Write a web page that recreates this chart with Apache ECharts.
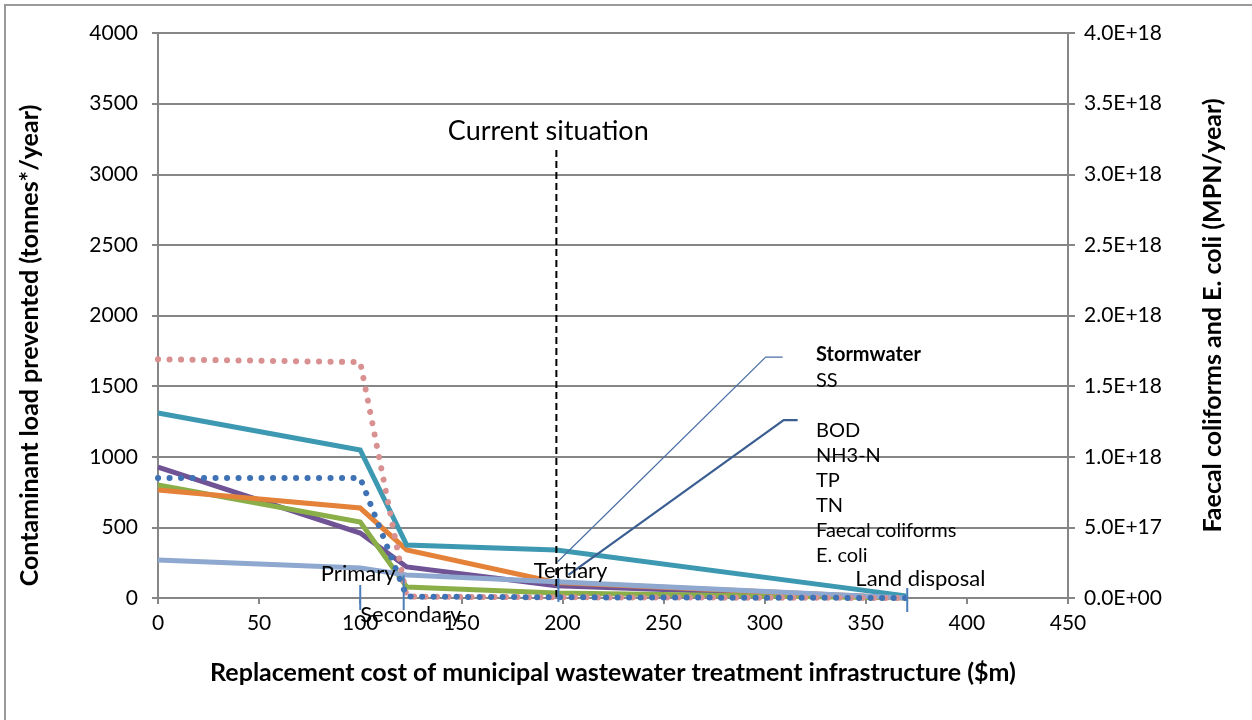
<!DOCTYPE html>
<html>
<head>
<meta charset="utf-8">
<script src="https://cdn.jsdelivr.net/npm/echarts@6/dist/echarts.min.js"></script>
<style>
html,body{margin:0;padding:0;background:#fff;}
#chart{width:1252px;height:720px;}
</style>
</head>
<body>
<div id="chart"></div>
<script>
// ---- data ----
const xCost = [0, 100, 123, 197, 370];
const SS = [1310, 1048, 375, 340, 15];
const BOD = [765, 637, 340, 110, 0];
const NH3N = [800, 538, 78, 35, 0];
const TP = [269, 212, 163, 115, 0];
const TN = [927, 460, 220, 87, 0];
const faecalColiforms = [1.69e18, 1.67e18, 0.01e18, 0.005e18, 0];
const eColi = [0.85e18, 0.85e18, 0.01e18, 0.005e18, 0];
const leftTicks = {min: 0, max: 4000, interval: 500};
const rightTicks = {min: 0, max: 4.0e18, interval: 0.5e18};
const xTicks = {min: 0, max: 450, interval: 50};
const legendNames = ['Stormwater', 'SS', '\u00a0', 'BOD', 'NH3-N', 'TP', 'TN', 'Faecal coliforms', 'E. coli'];
const phases = [
  {name: 'Primary', x: 100, tick: [92, -85], label: [99, 170]},
  {name: 'Secondary', x: 121.5, tick: [160, -85], label: [125, -120]},
  {name: 'Tertiary', x: 198, tick: [141, -28], label: [204, 190]},
  {name: 'Land disposal', x: 370.5, tick: [71, -99], label: [377, 134]}
];
const currentSituation = {x: 197, top: 3172, label: [193, 3306], text: 'Current situation'};
const leader1 = [[308.9, 1706], [300.5, 1706], [197.5, 255]];
const leader2 = [[316.3, 1260], [309.4, 1260], [203, 163]];

const FONT = 'Lato';
const pair = (xs, ys) => xs.map((x, i) => [x, ys[i]]);
function sci(v) {
  if (v === 0) return '0.0E+00';
  let e = Math.floor(Math.log10(v) + 1e-9);
  let m = v / Math.pow(10, e);
  return m.toFixed(1) + 'E+' + String(e).padStart(2, '0');
}

const chart = echarts.init(document.getElementById('chart'));
const solid = (name, data, color) => ({
  name, type: 'line', data: pair(xCost, data), yAxisIndex: 0,
  symbol: 'none', lineStyle: {color, width: 5, cap: 'butt', join: 'miter'},
  itemStyle: {color}, z: 3
});
const dotted = (name, data, color) => ({
  name, type: 'line', data: pair(xCost, data), yAxisIndex: 1,
  symbol: 'none', lineStyle: {color, width: 6, type: [0.1, 11.4], cap: 'round'},
  itemStyle: {color}, z: 4
});
const titleStyle = {fontFamily: FONT, fontSize: 25, fontWeight: 'bold', color: '#000'};
const tickStyle = {fontFamily: FONT, fontSize: 21, color: '#000'};

const option = {
  animation: false,
  backgroundColor: '#fff',
  textStyle: {fontFamily: FONT},
  grid: {left: 158, right: 184, top: 33, bottom: 122, containLabel: false},
  xAxis: {
    type: 'value', min: xTicks.min, max: xTicks.max, interval: xTicks.interval,
    name: 'Replacement cost of municipal wastewater treatment infrastructure ($m)',
    nameLocation: 'middle', nameGap: 62,
    nameTextStyle: titleStyle,
    axisLine: {lineStyle: {color: '#868686', width: 2}},
    axisTick: {show: true, length: 6, lineStyle: {color: '#868686', width: 2}},
    axisLabel: Object.assign({margin: 15}, tickStyle),
    splitLine: {show: false}
  },
  yAxis: [{
    type: 'value', min: leftTicks.min, max: leftTicks.max, interval: leftTicks.interval,
    name: 'Contaminant load prevented (tonnes*/year)',
    nameLocation: 'middle', nameGap: 116, nameRotate: 90,
    nameTextStyle: Object.assign({padding: [0, 60, 0, 0]}, titleStyle),
    axisLine: {show: true, lineStyle: {color: '#868686', width: 2}},
    axisTick: {show: true, length: 6, lineStyle: {color: '#868686', width: 2}},
    axisLabel: Object.assign({margin: 20, formatter: v => String(v)}, tickStyle),
    splitLine: {show: true, lineStyle: {color: '#868686', width: 2}}
  }, {
    type: 'value', min: rightTicks.min, max: rightTicks.max, interval: rightTicks.interval,
    position: 'right',
    name: 'Faecal coliforms and E. coli (MPN/year)',
    nameLocation: 'middle', nameGap: 132, nameRotate: 90,
    nameTextStyle: titleStyle,
    axisLine: {show: true, lineStyle: {color: '#868686', width: 2}},
    axisTick: {show: true, length: 7, lineStyle: {color: '#868686', width: 2}},
    axisLabel: Object.assign({margin: 16, formatter: sci}, tickStyle),
    splitLine: {show: false}
  }],
  legend: {
    orient: 'vertical', left: 806, top: 340,
    data: legendNames.map(n => n === 'Stormwater' ? {name: n, textStyle: {fontWeight: 'bold'}} : n),
    icon: 'none', itemWidth: 0, itemHeight: 17, itemGap: 5.1,
    textStyle: {fontFamily: FONT, fontSize: 20, lineHeight: 17, color: '#000'},
    selectedMode: false
  },
  series: [
    {name: 'Stormwater', type: 'line', data: [], yAxisIndex: 0},
    {name: '\u00a0', type: 'line', data: [], yAxisIndex: 0},
    solid('TN', TN, '#6F5395'),
    solid('NH3-N', NH3N, '#8BAF48'),
    solid('BOD', BOD, '#E4823A'),
    solid('SS', SS, '#3D99B1'),
    solid('TP', TP, '#8EA8D0'),
    dotted('Faecal coliforms', faecalColiforms, '#D99090'),
    dotted('E. coli', eColi, '#3F72B5')
  ]
};
chart.setOption(option);

function px(p) { return chart.convertToPixel({xAxisIndex: 0, yAxisIndex: 0}, p); }
const g = [];
// outer border
g.push({type: 'rect', shape: {x: 5, y: 5, width: 1300, height: 800}, style: {fill: 'none', stroke: '#9a9a9a', lineWidth: 2}, silent: true, z: 0});
// current situation
const cTop = px([currentSituation.x, currentSituation.top]);
const cBot = px([currentSituation.x, 0]);
g.push({type: 'line', shape: {x1: cTop[0], y1: cTop[1], x2: cBot[0], y2: cBot[1]}, style: {stroke: '#000', lineWidth: 2, lineDash: [7, 4]}, z: 10});
const cl = px(currentSituation.label);
g.push({type: 'text', x: cl[0], y: cl[1], style: {text: currentSituation.text, font: '27px ' + FONT, fill: '#000', align: 'center', verticalAlign: 'middle'}, z: 10});
// leader lines
g.push({type: 'polyline', shape: {points: leader1.map(px)}, style: {stroke: '#4A6FA5', lineWidth: 1.2, fill: 'none'}, z: 10});
g.push({type: 'polyline', shape: {points: leader2.map(px)}, style: {stroke: '#3B5E92', lineWidth: 2.2, fill: 'none'}, z: 10});
// phases
phases.forEach(p => {
  const a = px([p.x, p.tick[0]]), b = px([p.x, p.tick[1]]);
  g.push({type: 'line', shape: {x1: a[0], y1: a[1], x2: b[0], y2: b[1]}, style: {stroke: '#4A7EBB', lineWidth: 2}, z: 11});
  const l = px(p.label);
  g.push({type: 'text', x: l[0], y: l[1], style: {text: p.name, font: '22px ' + FONT, fill: '#000', align: 'center', verticalAlign: 'middle'}, z: 12});
});
chart.setOption({graphic: {elements: g}});
</script>
</body>
</html>
